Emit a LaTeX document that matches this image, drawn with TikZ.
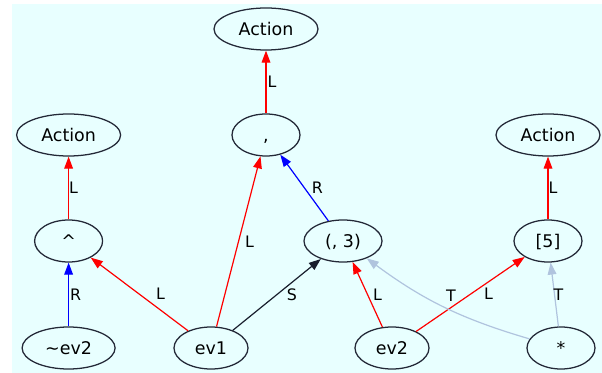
\documentclass[tikz,border=0pt]{standalone}
\usepackage{fontspec}
\setmainfont{DejaVu Sans}
\usepackage{tikz}
\usetikzlibrary{shapes.geometric}
\usetikzlibrary{arrows.meta}
\usetikzlibrary{backgrounds}
\definecolor{colorBG}{RGB}{232,255,255}
\definecolor{colorNode}{RGB}{35,40,55}
\colorlet{colorL}{red}
\colorlet{colorR}{blue}
\definecolor{colorS}{RGB}{25,30,45}
\definecolor{colorT}{RGB}{176,196,222}
\tikzset{
   every path/.style={>={Triangle[length=3.6mm,width=2.6mm]}},
   ast/.style={ellipse,draw=colorNode,line width=0.38mm,inner sep=0pt,
     text height=14.6pt,text depth=3.7pt,
     minimum height=12.6mm,font=\fontsize{14.9}{18}\selectfont},
   lbl/.style={text=black,inner sep=0pt,font=\fontsize{13.5}{16}\selectfont},
   Ledge/.style={->,color=colorL,line width=0.36mm},
   Redge/.style={->,color=colorR,line width=0.36mm},
   Sedge/.style={->,color=colorS,line width=0.36mm},
   Tedge/.style={->,color=colorT,line width=0.36mm},
}

\begin{document}
\begin{tikzpicture}[x=0.3mm,y=0.3mm]

  \useasboundingbox (0,0) rectangle (602,-373);

  \node[ast,minimum width=31.2mm] (actTop) at (266, -29)   {Action};

  \node[ast,minimum width=31.2mm] (actL)   at (68.6, -135) {Action};
  \node[ast,minimum width=20.4mm] (comma)  at (266, -135)  {,};
  \node[ast,minimum width=31.2mm] (actR)   at (548, -135)  {Action};

  \node[ast,minimum width=20.4mm] (caret)  at (68.6, -241) {\textasciicircum};
  \node[ast,minimum width=23.4mm] (pair)   at (343, -241)  {(, 3)};
  \node[ast,minimum width=20.4mm] (idx)    at (548, -241)  {[5]};

  \node[ast,minimum width=27.9mm] (nev2)   at (68.6, -348) {\textasciitilde{}ev2};
  \node[ast,minimum width=22.2mm] (ev1)    at (211, -348)  {ev1};
  \node[ast,minimum width=22.2mm] (ev2)    at (392, -348)  {ev2};
  \node[ast,minimum width=20.4mm] (star)   at (561, -348)  {*};

  \draw[Ledge] (comma) edge node[lbl,xshift=1.8mm] (lbA) {L} (actTop);
  \draw[Ledge] (caret) edge node[lbl,xshift=1.5mm] (lbB) {L} (actL);
  \draw[Ledge] (idx)   edge node[lbl,xshift=1.5mm] (lbC) {L} (actR);

  \draw[Redge] (nev2)  edge node[lbl,xshift=2.1mm] (lbD) {R} (caret);
  \draw[Ledge] (ev1)   edge node[lbl,xshift=6.3mm] (lbE) {L} (caret);
  \draw[Ledge] (ev1)   edge node[lbl,xshift=3.3mm] (lbF) {L} (comma);
  \draw[Sedge] (ev1)   edge node[lbl,xshift=4.5mm] (lbG) {S} (pair);
  \draw[Redge] (pair)  edge node[lbl,xshift=3.9mm] (lbH) {R} (comma);
  \draw[Ledge] (ev2)   edge node[lbl,xshift=3mm]   (lbI) {L} (pair);
  \draw[Ledge] (ev2)   edge node[lbl,xshift=5.4mm] (lbJ) {L} (idx);
  \draw[Tedge] (star)  edge node[lbl,xshift=1.2mm] (lbK) {T} (idx);
  \draw[Tedge] (star)  edge[bend left=10]
    node[lbl,xshift=2.1mm,yshift=3.3mm] (lbM) {T} (pair);

  \begin{scope}[on background layer]
    \fill[colorBG] (12, -4) rectangle (602, -373);
  \end{scope}
\end{tikzpicture}
\end{document}
